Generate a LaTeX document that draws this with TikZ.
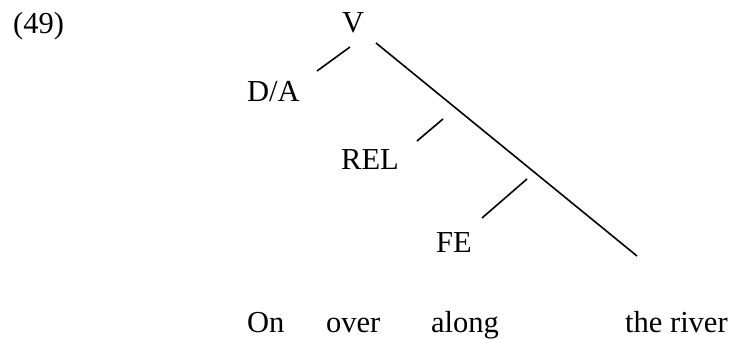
\documentclass[tikz,border=0pt]{standalone}
\usepackage{fontspec}
\setmainfont{Liberation Serif}
\tikzset{
  lbl/.style={inner sep=0pt, anchor=base west, font=\fontsize{30.5}{36}\selectfont},
  branch/.style={line width=1.6pt, line cap=butt}
}
\begin{document}
\begin{tikzpicture}[x=1pt, y=-1pt]
  \useasboundingbox (0,0) rectangle (734,339);

  % example number
  \node[lbl] (num) at (13,34) {(49)};

  % category labels
  \node[lbl] (v)   at (342,33)  {V};
  \node[lbl] (da)  at (247,102) {D/A};
  \node[lbl] (rel) at (341,170) {REL};
  \node[lbl] (fe)  at (436,253) {FE};

  % branch end points
  \coordinate (vl)  at (350,47);
  \coordinate (dae) at (317,71);
  \coordinate (vr)  at (376,43);
  \coordinate (end) at (637,256);
  \coordinate (rs)  at (443,119);
  \coordinate (re)  at (417,141);
  \coordinate (fs)  at (527,179);
  \coordinate (fen) at (482,218);

  \draw[branch] (vl) -- (dae);
  \draw[branch] (vr) -- (end);
  \draw[branch] (rs) -- (re);
  \draw[branch] (fs) -- (fen);

  % words
  \node[lbl] (w1) at (247,332) {On};
  \node[lbl] (w2) at (326,332) {over};
  \node[lbl] (w3) at (431,332) {along};
  \node[lbl] (w4) at (625,332) {the river};
\end{tikzpicture}
\end{document}
